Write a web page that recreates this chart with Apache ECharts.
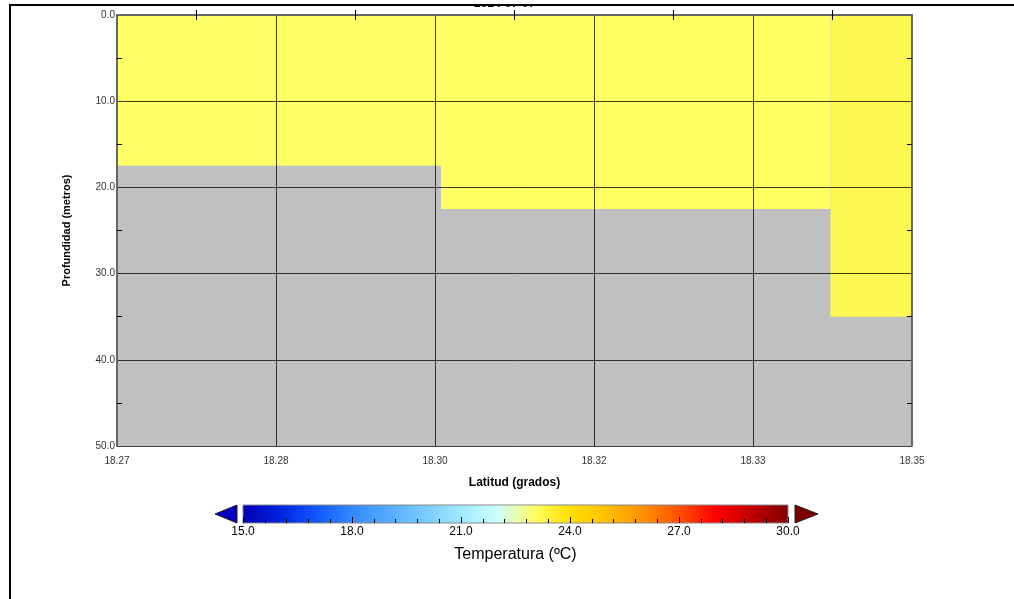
<!DOCTYPE html>
<html>
<head>
<meta charset="utf-8">
<script src="https://cdn.jsdelivr.net/npm/echarts@6/dist/echarts.min.js"></script>
<style>html,body{margin:0;padding:0;background:#fff;}#c{width:1014px;height:599px;}</style>
</head>
<body>
<div id="c"></div>
<script>
// ---- data ----
const cellLatStart = [18.268, 18.3006, 18.3398];
const cellLatEnd = [18.3006, 18.3398, 18.348];
const cellDepthTop = [0, 0, 0];
const cellDepthBottom = [17.5, 22.5, 35];
const cellTemp = [23.0, 23.03, 23.22];
const xTickLabels = ['18.27', '18.28', '18.30', '18.32', '18.33', '18.35'];
const yTickLabels = ['0.0', '10.0', '20.0', '30.0', '40.0', '50.0'];
const cbTickLabels = ['15.0', '18.0', '21.0', '24.0', '27.0', '30.0'];
const colorScale = ['#0000B0', '#0022E0', '#1155FF', '#3388FF', '#55AAFF', '#77CCFF', '#A0E8FF', '#CCFFFF',
  '#FFFF66', '#FFE000', '#FFC000', '#FF9000', '#FF5000', '#FF0000', '#C00000', '#800000'];

const cells = cellTemp.map((t, i) => [cellLatStart[i], cellLatEnd[i], cellDepthTop[i], cellDepthBottom[i], t]);

const FONT = 'Liberation Sans';
const chart = echarts.init(document.getElementById('c'));

const mainX = {
  type: 'value', min: 18.268, max: 18.348, interval: 0.016, gridIndex: 0, z: 5
};
const mainY = {
  type: 'value', min: 0, max: 50, interval: 10, inverse: true, gridIndex: 0, z: 5
};
const frameLine = { show: true, lineStyle: { color: '#666', width: 2 } };
const innerTick = { show: true, inside: true, length: 0, lineStyle: { color: '#000' } };
const innerMinor = { show: true, splitNumber: 2, length: 5, lineStyle: { color: '#000' } };

chart.setOption({
  backgroundColor: '#fff',
  animation: false,
  textStyle: { fontFamily: FONT },
  grid: [
    { left: 117, top: 15, width: 795, height: 431, show: true, backgroundColor: '#C0C0C0', borderWidth: 0 },
    { left: 243, top: 505, width: 545, height: 18, show: false }
  ],
  visualMap: {
    type: 'continuous', show: false, min: 15, max: 30, dimension: 4, seriesIndex: 0,
    inRange: { color: colorScale }
  },
  xAxis: [
    Object.assign({}, mainX, {
      position: 'bottom',
      axisLine: frameLine, axisTick: innerTick, minorTick: innerMinor,
      splitLine: { show: true, lineStyle: { color: '#000', width: 1, opacity: 0.75 } },
      axisLabel: { fontSize: 10, color: '#333', margin: 10, fontFamily: FONT,
        formatter: (v, i) => xTickLabels[i] },
      name: 'Latitud (grados)', nameLocation: 'middle', nameGap: 31,
      nameTextStyle: { fontSize: 12, fontWeight: 'bold', color: '#000', fontFamily: FONT }
    }),
    Object.assign({}, mainX, {
      position: 'top',
      axisLine: frameLine,
      axisTick: { show: true, inside: false, length: 0, lineStyle: { color: '#000' } },
      minorTick: { show: true, splitNumber: 2, length: -5, lineStyle: { color: '#000' } },
      splitLine: { show: false },
      axisLabel: { show: false }
    }),
    {
      type: 'value', min: 15, max: 30, interval: 3, gridIndex: 1, position: 'bottom', z: 10,
      axisLine: { show: false },
      axisTick: { show: true, inside: true, length: 6, lineStyle: { color: '#000' } },
      minorTick: { show: true, splitNumber: 5, length: 4, lineStyle: { color: '#000' } },
      splitLine: { show: false },
      axisLabel: { fontSize: 12, color: '#000', margin: 3, fontFamily: FONT,
        formatter: (v, i) => cbTickLabels[i] },
      name: 'Temperatura (ºC)', nameLocation: 'middle', nameGap: 24,
      nameTextStyle: { fontSize: 16, color: '#000', fontFamily: FONT }
    }
  ],
  yAxis: [
    Object.assign({}, mainY, {
      position: 'left',
      axisLine: frameLine, axisTick: innerTick, minorTick: innerMinor,
      splitLine: { show: true, lineStyle: { color: '#000', width: 1, opacity: 0.75 } },
      axisLabel: { fontSize: 10, color: '#333', margin: 2, fontFamily: FONT,
        formatter: (v, i) => yTickLabels[i] },
      name: 'Profundidad (metros)', nameLocation: 'middle', nameGap: 45,
      nameTextStyle: { fontSize: 11, fontWeight: 'bold', color: '#000', fontFamily: FONT }
    }),
    Object.assign({}, mainY, {
      position: 'right',
      axisLine: frameLine, axisTick: innerTick, minorTick: innerMinor,
      splitLine: { show: false },
      axisLabel: { show: false }
    }),
    { type: 'value', gridIndex: 1, show: false, min: 0, max: 1 }
  ],
  graphic: [
    { type: 'text', x: 474, y: -2, z: 1,
      style: { text: '2014-07-07', fontSize: 12, fontWeight: 'bold', fill: '#000', fontFamily: FONT } },
    { type: 'rect', x: 0, y: 0, z: 2, shape: { width: 1014, height: 5 }, style: { fill: '#fff' } },
    { type: 'line', z: 3, shape: { x1: 9, y1: 5, x2: 1014, y2: 5 }, style: { stroke: '#000', lineWidth: 2 } },
    { type: 'line', z: 3, shape: { x1: 10, y1: 5, x2: 10, y2: 599 }, style: { stroke: '#000', lineWidth: 2 } },
    { type: 'rect', z: 1, shape: { x: 243, y: 505, width: 545, height: 18 },
      style: {
        fill: new echarts.graphic.LinearGradient(0, 0, 1, 0,
          colorScale.map((c, i) => ({ offset: i / (colorScale.length - 1), color: c }))),
        stroke: '#888', lineWidth: 1
      } },
    { type: 'polygon', z: 1, shape: { points: [[237, 505], [237, 523], [215, 514]] },
      style: { fill: '#0000C0', stroke: '#222', lineWidth: 1 } },
    { type: 'polygon', z: 1, shape: { points: [[795, 505], [795, 523], [818, 514]] },
      style: { fill: '#7A0000', stroke: '#222', lineWidth: 1 } }
  ],
  series: [
    {
      type: 'custom', xAxisIndex: 0, yAxisIndex: 0, data: cells,
      encode: { x: [0, 1], y: [2, 3] },
      renderItem: function (params, api) {
        const p0 = api.coord([api.value(0), api.value(2)]);
        const p1 = api.coord([api.value(1), api.value(3)]);
        return {
          type: 'rect',
          shape: { x: p0[0], y: p0[1], width: p1[0] - p0[0], height: p1[1] - p0[1] },
          style: { fill: api.visual('color') }
        };
      }
    }
  ]
});
</script>
</body>
</html>
